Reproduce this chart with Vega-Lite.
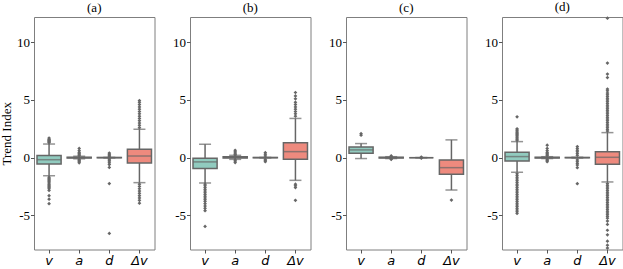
{
"$schema":"https://vega.github.io/schema/vega-lite/v6.json",
"padding":{"left":0,"right":0,"top":0,"bottom":0},
"spacing":17,
"config":{
 "view":{"stroke":"#7f7f7f","strokeWidth":1},
 "axis":{"grid":false,"domain":false,"tickColor":"#555","tickSize":3.5,"labelColor":"#000","titleColor":"#000"},
 "axisY":{"labelFont":"Liberation Serif","labelFontSize":13,"titleFont":"Liberation Serif","titleFontSize":13,"titleFontWeight":"normal","labelPadding":1,"titlePadding":3},
 "axisX":{"labelFont":"DejaVu Sans","labelFontStyle":"italic","labelFontSize":13,"labelAngle":0,"title":null,"labelPadding":1},
 "title":{"font":"Liberation Serif","fontSize":13,"fontWeight":"normal","anchor":"middle","offset":2,"color":"#000"}
},
"datasets":{
"boxes":[
{"p":"a","var":"v","q1":-0.55,"med":-0.18,"q3":0.18,"lo":-1.57,"hi":1.18},
{"p":"a","var":"a","q1":-0.03,"med":0.0,"q3":0.04,"lo":-0.1,"hi":0.12},
{"p":"a","var":"d","q1":-0.01,"med":0.0,"q3":0.01,"lo":-0.02,"hi":0.02},
{"p":"a","var":"Δv","q1":-0.46,"med":0.14,"q3":0.72,"lo":-2.17,"hi":2.46},
{"p":"b","var":"v","q1":-0.95,"med":-0.37,"q3":-0.05,"lo":-2.2,"hi":1.16},
{"p":"b","var":"a","q1":-0.03,"med":0.02,"q3":0.07,"lo":-0.15,"hi":0.2},
{"p":"b","var":"d","q1":-0.01,"med":0.0,"q3":0.01,"lo":-0.02,"hi":0.02},
{"p":"b","var":"Δv","q1":-0.14,"med":0.52,"q3":1.3,"lo":-1.97,"hi":3.4},
{"p":"c","var":"v","q1":0.38,"med":0.67,"q3":0.93,"lo":-0.08,"hi":1.22},
{"p":"c","var":"a","q1":-0.03,"med":0.0,"q3":0.03,"lo":-0.08,"hi":0.08},
{"p":"c","var":"d","q1":0.0,"med":0.0,"q3":0.0,"lo":0.0,"hi":0.0},
{"p":"c","var":"Δv","q1":-1.45,"med":-0.87,"q3":-0.2,"lo":-2.81,"hi":1.54},
{"p":"d","var":"v","q1":-0.29,"med":0.09,"q3":0.47,"lo":-1.27,"hi":1.39},
{"p":"d","var":"a","q1":-0.03,"med":0.0,"q3":0.03,"lo":-0.08,"hi":0.08},
{"p":"d","var":"d","q1":-0.01,"med":0.0,"q3":0.01,"lo":-0.03,"hi":0.03},
{"p":"d","var":"Δv","q1":-0.58,"med":0.03,"q3":0.52,"lo":-2.11,"hi":2.17}
],
"outliers":[
{"p":"a","var":"v","y":1.3},{"p":"a","var":"v","y":1.36},{"p":"a","var":"v","y":1.42},{"p":"a","var":"v","y":1.48},{"p":"a","var":"v","y":1.54},{"p":"a","var":"v","y":1.6},{"p":"a","var":"v","y":1.7},
{"p":"a","var":"v","y":-1.7},{"p":"a","var":"v","y":-1.8},{"p":"a","var":"v","y":-1.9},{"p":"a","var":"v","y":-2.0},{"p":"a","var":"v","y":-2.1},{"p":"a","var":"v","y":-2.2},{"p":"a","var":"v","y":-2.3},{"p":"a","var":"v","y":-2.4},{"p":"a","var":"v","y":-2.5},{"p":"a","var":"v","y":-2.6},{"p":"a","var":"v","y":-2.7},{"p":"a","var":"v","y":-2.85},{"p":"a","var":"v","y":-3.3},{"p":"a","var":"v","y":-3.6},{"p":"a","var":"v","y":-4.0},
{"p":"a","var":"a","y":0.8},{"p":"a","var":"a","y":0.6},{"p":"a","var":"a","y":0.45},{"p":"a","var":"a","y":0.35},{"p":"a","var":"a","y":0.25},{"p":"a","var":"a","y":0.18},{"p":"a","var":"a","y":-0.18},{"p":"a","var":"a","y":-0.25},{"p":"a","var":"a","y":-0.35},{"p":"a","var":"a","y":-0.45},
{"p":"a","var":"d","y":0.4},{"p":"a","var":"d","y":0.3},{"p":"a","var":"d","y":0.2},{"p":"a","var":"d","y":0.1},{"p":"a","var":"d","y":-0.1},{"p":"a","var":"d","y":-0.2},{"p":"a","var":"d","y":-0.3},{"p":"a","var":"d","y":-0.45},{"p":"a","var":"d","y":-0.6},{"p":"a","var":"d","y":-0.85},{"p":"a","var":"d","y":-2.25},{"p":"a","var":"d","y":-6.58},
{"p":"a","var":"Δv","y":2.6},{"p":"a","var":"Δv","y":2.8},{"p":"a","var":"Δv","y":3.0},{"p":"a","var":"Δv","y":3.2},{"p":"a","var":"Δv","y":3.4},{"p":"a","var":"Δv","y":3.6},{"p":"a","var":"Δv","y":3.8},{"p":"a","var":"Δv","y":4.0},{"p":"a","var":"Δv","y":4.2},{"p":"a","var":"Δv","y":4.4},{"p":"a","var":"Δv","y":4.6},{"p":"a","var":"Δv","y":4.8},{"p":"a","var":"Δv","y":4.95},
{"p":"a","var":"Δv","y":-2.3},{"p":"a","var":"Δv","y":-2.5},{"p":"a","var":"Δv","y":-2.7},{"p":"a","var":"Δv","y":-2.9},{"p":"a","var":"Δv","y":-3.1},{"p":"a","var":"Δv","y":-3.3},{"p":"a","var":"Δv","y":-3.5},{"p":"a","var":"Δv","y":-3.7},{"p":"a","var":"Δv","y":-3.95},
{"p":"b","var":"v","y":-2.3},{"p":"b","var":"v","y":-2.45},{"p":"b","var":"v","y":-2.6},{"p":"b","var":"v","y":-2.75},{"p":"b","var":"v","y":-2.9},{"p":"b","var":"v","y":-3.05},{"p":"b","var":"v","y":-3.2},{"p":"b","var":"v","y":-3.35},{"p":"b","var":"v","y":-3.5},{"p":"b","var":"v","y":-3.65},{"p":"b","var":"v","y":-3.8},{"p":"b","var":"v","y":-4.0},{"p":"b","var":"v","y":-4.2},{"p":"b","var":"v","y":-4.4},{"p":"b","var":"v","y":-4.6},{"p":"b","var":"v","y":-5.97},
{"p":"b","var":"a","y":0.64},{"p":"b","var":"a","y":0.5},{"p":"b","var":"a","y":0.4},{"p":"b","var":"a","y":0.3},{"p":"b","var":"a","y":0.22},{"p":"b","var":"a","y":-0.2},{"p":"b","var":"a","y":-0.3},{"p":"b","var":"a","y":-0.43},
{"p":"b","var":"d","y":0.43},{"p":"b","var":"d","y":0.3},{"p":"b","var":"d","y":0.15},{"p":"b","var":"d","y":-0.15},{"p":"b","var":"d","y":-0.25},{"p":"b","var":"d","y":-0.35},
{"p":"b","var":"Δv","y":3.6},{"p":"b","var":"Δv","y":3.8},{"p":"b","var":"Δv","y":4.0},{"p":"b","var":"Δv","y":4.2},{"p":"b","var":"Δv","y":4.4},{"p":"b","var":"Δv","y":4.6},{"p":"b","var":"Δv","y":4.8},{"p":"b","var":"Δv","y":5.1},{"p":"b","var":"Δv","y":5.35},{"p":"b","var":"Δv","y":5.65},
{"p":"b","var":"Δv","y":-2.3},{"p":"b","var":"Δv","y":-2.45},{"p":"b","var":"Δv","y":-2.6},{"p":"b","var":"Δv","y":-3.7},
{"p":"c","var":"v","y":1.95},{"p":"c","var":"v","y":2.08},
{"p":"c","var":"a","y":0.15},{"p":"c","var":"a","y":0.1},{"p":"c","var":"a","y":-0.1},{"p":"c","var":"a","y":-0.15},
{"p":"c","var":"d","y":0.05},{"p":"c","var":"d","y":-0.05},
{"p":"c","var":"Δv","y":-3.68},
{"p":"d","var":"v","y":1.5},{"p":"d","var":"v","y":1.6},{"p":"d","var":"v","y":1.7},{"p":"d","var":"v","y":1.8},{"p":"d","var":"v","y":1.9},{"p":"d","var":"v","y":2.0},{"p":"d","var":"v","y":2.1},{"p":"d","var":"v","y":2.2},{"p":"d","var":"v","y":2.3},{"p":"d","var":"v","y":2.4},{"p":"d","var":"v","y":2.5},{"p":"d","var":"v","y":3.54},
{"p":"d","var":"v","y":-1.4},{"p":"d","var":"v","y":-1.55},{"p":"d","var":"v","y":-1.7},{"p":"d","var":"v","y":-1.85},{"p":"d","var":"v","y":-2.0},{"p":"d","var":"v","y":-2.15},{"p":"d","var":"v","y":-2.3},{"p":"d","var":"v","y":-2.45},{"p":"d","var":"v","y":-2.6},{"p":"d","var":"v","y":-2.75},{"p":"d","var":"v","y":-2.9},{"p":"d","var":"v","y":-3.05},{"p":"d","var":"v","y":-3.2},{"p":"d","var":"v","y":-3.35},{"p":"d","var":"v","y":-3.5},{"p":"d","var":"v","y":-3.65},{"p":"d","var":"v","y":-3.8},{"p":"d","var":"v","y":-3.95},{"p":"d","var":"v","y":-4.1},{"p":"d","var":"v","y":-4.25},{"p":"d","var":"v","y":-4.4},{"p":"d","var":"v","y":-4.55},{"p":"d","var":"v","y":-4.7},{"p":"d","var":"v","y":-4.84},
{"p":"d","var":"a","y":1.08},{"p":"d","var":"a","y":0.8},{"p":"d","var":"a","y":0.6},{"p":"d","var":"a","y":0.45},{"p":"d","var":"a","y":0.35},{"p":"d","var":"a","y":0.25},{"p":"d","var":"a","y":0.18},{"p":"d","var":"a","y":-0.18},{"p":"d","var":"a","y":-0.25},{"p":"d","var":"a","y":-0.35},
{"p":"d","var":"d","y":0.96},{"p":"d","var":"d","y":0.8},{"p":"d","var":"d","y":0.65},{"p":"d","var":"d","y":0.5},{"p":"d","var":"d","y":0.35},{"p":"d","var":"d","y":0.2},{"p":"d","var":"d","y":-0.2},{"p":"d","var":"d","y":-0.35},{"p":"d","var":"d","y":-0.5},{"p":"d","var":"d","y":-0.65},{"p":"d","var":"d","y":-0.87},{"p":"d","var":"d","y":-2.26},
{"p":"d","var":"Δv","y":2.3},{"p":"d","var":"Δv","y":2.45},{"p":"d","var":"Δv","y":2.6},{"p":"d","var":"Δv","y":2.75},{"p":"d","var":"Δv","y":2.9},{"p":"d","var":"Δv","y":3.05},{"p":"d","var":"Δv","y":3.2},{"p":"d","var":"Δv","y":3.35},{"p":"d","var":"Δv","y":3.5},{"p":"d","var":"Δv","y":3.65},{"p":"d","var":"Δv","y":3.8},{"p":"d","var":"Δv","y":3.95},{"p":"d","var":"Δv","y":4.1},{"p":"d","var":"Δv","y":4.25},{"p":"d","var":"Δv","y":4.4},{"p":"d","var":"Δv","y":4.55},{"p":"d","var":"Δv","y":4.7},{"p":"d","var":"Δv","y":4.85},{"p":"d","var":"Δv","y":5.0},{"p":"d","var":"Δv","y":5.15},{"p":"d","var":"Δv","y":5.3},{"p":"d","var":"Δv","y":5.45},{"p":"d","var":"Δv","y":5.6},{"p":"d","var":"Δv","y":5.8},{"p":"d","var":"Δv","y":5.95},{"p":"d","var":"Δv","y":6.95},{"p":"d","var":"Δv","y":7.25},{"p":"d","var":"Δv","y":8.2},{"p":"d","var":"Δv","y":12.1},
{"p":"d","var":"Δv","y":-2.25},{"p":"d","var":"Δv","y":-2.4},{"p":"d","var":"Δv","y":-2.55},{"p":"d","var":"Δv","y":-2.7},{"p":"d","var":"Δv","y":-2.85},{"p":"d","var":"Δv","y":-3.0},{"p":"d","var":"Δv","y":-3.15},{"p":"d","var":"Δv","y":-3.3},{"p":"d","var":"Δv","y":-3.45},{"p":"d","var":"Δv","y":-3.6},{"p":"d","var":"Δv","y":-3.75},{"p":"d","var":"Δv","y":-3.9},{"p":"d","var":"Δv","y":-4.05},{"p":"d","var":"Δv","y":-4.2},{"p":"d","var":"Δv","y":-4.35},{"p":"d","var":"Δv","y":-4.5},{"p":"d","var":"Δv","y":-4.65},{"p":"d","var":"Δv","y":-4.8},{"p":"d","var":"Δv","y":-4.95},{"p":"d","var":"Δv","y":-5.1},{"p":"d","var":"Δv","y":-5.25},{"p":"d","var":"Δv","y":-5.5},{"p":"d","var":"Δv","y":-5.8},{"p":"d","var":"Δv","y":-6.3},{"p":"d","var":"Δv","y":-6.7},{"p":"d","var":"Δv","y":-7.25},{"p":"d","var":"Δv","y":-7.6},{"p":"d","var":"Δv","y":-7.85}
]
},
"hconcat":[
{"title":"(a)","width":120.5,"height":232.5,
 "encoding":{"x":{"field":"var","type":"nominal","sort":["v","a","d","Δv"],"scale":{"paddingInner":0,"paddingOuter":0}}},
 "layer":[
  {"data":{"name":"boxes"},"transform":[{"filter":"datum.p=='a'"}],"mark":{"type":"rule","color":"#666","strokeWidth":1.5},"encoding":{"y":{"field":"lo","type":"quantitative","scale":{"domain":[-7.97,12.2],"nice":false,"zero":false},"axis":{"values":[-5,0,5,10],"title":"Trend Index","labelExpr":"datum.value"}},"y2":{"field":"hi"}}},
  {"data":{"name":"boxes"},"transform":[{"filter":"datum.p=='a'"}],"mark":{"type":"tick","color":"#666","size":12,"thickness":1.5},"encoding":{"y":{"field":"lo","type":"quantitative"}}},
  {"data":{"name":"boxes"},"transform":[{"filter":"datum.p=='a'"}],"mark":{"type":"tick","color":"#666","size":12,"thickness":1.5},"encoding":{"y":{"field":"hi","type":"quantitative"}}},
  {"data":{"name":"boxes"},"transform":[{"filter":"datum.p=='a'"}],"mark":{"type":"bar","width":{"band":0.8},"stroke":"#666","strokeWidth":1.5,"opacity":1},"encoding":{"y":{"field":"q1","type":"quantitative"},"y2":{"field":"q3"},"color":{"field":"var","type":"nominal","scale":{"domain":["v","a","d","Δv"],"range":["#91cbbf","#f2f2c0","#b9b7cf","#ee8a7e"]},"legend":null}}},
  {"data":{"name":"boxes"},"transform":[{"filter":"datum.p=='a'"}],"mark":{"type":"tick","color":"#666","size":24,"thickness":1.5},"encoding":{"y":{"field":"med","type":"quantitative"}}},
  {"data":{"name":"outliers"},"transform":[{"filter":"datum.p=='a'"}],"mark":{"type":"point","shape":"diamond","filled":true,"color":"#666","size":14,"opacity":1},"encoding":{"y":{"field":"y","type":"quantitative"}}}
 ]},
{"title":"(b)","width":120.5,"height":232.5,
 "encoding":{"x":{"field":"var","type":"nominal","sort":["v","a","d","Δv"],"scale":{"paddingInner":0,"paddingOuter":0}}},
 "layer":[
  {"data":{"name":"boxes"},"transform":[{"filter":"datum.p=='b'"}],"mark":{"type":"rule","color":"#666","strokeWidth":1.5},"encoding":{"y":{"field":"lo","type":"quantitative","scale":{"domain":[-7.97,12.2],"nice":false,"zero":false},"axis":{"values":[-5,0,5,10],"title":null,"labelExpr":"datum.value"}},"y2":{"field":"hi"}}},
  {"data":{"name":"boxes"},"transform":[{"filter":"datum.p=='b'"}],"mark":{"type":"tick","color":"#666","size":12,"thickness":1.5},"encoding":{"y":{"field":"lo","type":"quantitative"}}},
  {"data":{"name":"boxes"},"transform":[{"filter":"datum.p=='b'"}],"mark":{"type":"tick","color":"#666","size":12,"thickness":1.5},"encoding":{"y":{"field":"hi","type":"quantitative"}}},
  {"data":{"name":"boxes"},"transform":[{"filter":"datum.p=='b'"}],"mark":{"type":"bar","width":{"band":0.8},"stroke":"#666","strokeWidth":1.5,"opacity":1},"encoding":{"y":{"field":"q1","type":"quantitative"},"y2":{"field":"q3"},"color":{"field":"var","type":"nominal","scale":{"domain":["v","a","d","Δv"],"range":["#91cbbf","#f2f2c0","#b9b7cf","#ee8a7e"]},"legend":null}}},
  {"data":{"name":"boxes"},"transform":[{"filter":"datum.p=='b'"}],"mark":{"type":"tick","color":"#666","size":24,"thickness":1.5},"encoding":{"y":{"field":"med","type":"quantitative"}}},
  {"data":{"name":"outliers"},"transform":[{"filter":"datum.p=='b'"}],"mark":{"type":"point","shape":"diamond","filled":true,"color":"#666","size":14,"opacity":1},"encoding":{"y":{"field":"y","type":"quantitative"}}}
 ]},
{"title":"(c)","width":120.5,"height":232.5,
 "encoding":{"x":{"field":"var","type":"nominal","sort":["v","a","d","Δv"],"scale":{"paddingInner":0,"paddingOuter":0}}},
 "layer":[
  {"data":{"name":"boxes"},"transform":[{"filter":"datum.p=='c'"}],"mark":{"type":"rule","color":"#666","strokeWidth":1.5},"encoding":{"y":{"field":"lo","type":"quantitative","scale":{"domain":[-7.97,12.2],"nice":false,"zero":false},"axis":{"values":[-5,0,5,10],"title":null,"labelExpr":"datum.value"}},"y2":{"field":"hi"}}},
  {"data":{"name":"boxes"},"transform":[{"filter":"datum.p=='c'"}],"mark":{"type":"tick","color":"#666","size":12,"thickness":1.5},"encoding":{"y":{"field":"lo","type":"quantitative"}}},
  {"data":{"name":"boxes"},"transform":[{"filter":"datum.p=='c'"}],"mark":{"type":"tick","color":"#666","size":12,"thickness":1.5},"encoding":{"y":{"field":"hi","type":"quantitative"}}},
  {"data":{"name":"boxes"},"transform":[{"filter":"datum.p=='c'"}],"mark":{"type":"bar","width":{"band":0.8},"stroke":"#666","strokeWidth":1.5,"opacity":1},"encoding":{"y":{"field":"q1","type":"quantitative"},"y2":{"field":"q3"},"color":{"field":"var","type":"nominal","scale":{"domain":["v","a","d","Δv"],"range":["#91cbbf","#f2f2c0","#b9b7cf","#ee8a7e"]},"legend":null}}},
  {"data":{"name":"boxes"},"transform":[{"filter":"datum.p=='c'"}],"mark":{"type":"tick","color":"#666","size":24,"thickness":1.5},"encoding":{"y":{"field":"med","type":"quantitative"}}},
  {"data":{"name":"outliers"},"transform":[{"filter":"datum.p=='c'"}],"mark":{"type":"point","shape":"diamond","filled":true,"color":"#666","size":14,"opacity":1},"encoding":{"y":{"field":"y","type":"quantitative"}}}
 ]},
{"title":"(d)","width":120.5,"height":232.5,
 "encoding":{"x":{"field":"var","type":"nominal","sort":["v","a","d","Δv"],"scale":{"paddingInner":0,"paddingOuter":0}}},
 "layer":[
  {"data":{"name":"boxes"},"transform":[{"filter":"datum.p=='d'"}],"mark":{"type":"rule","color":"#666","strokeWidth":1.5},"encoding":{"y":{"field":"lo","type":"quantitative","scale":{"domain":[-7.97,12.2],"nice":false,"zero":false},"axis":{"values":[-5,0,5,10],"title":null,"labelExpr":"datum.value"}},"y2":{"field":"hi"}}},
  {"data":{"name":"boxes"},"transform":[{"filter":"datum.p=='d'"}],"mark":{"type":"tick","color":"#666","size":12,"thickness":1.5},"encoding":{"y":{"field":"lo","type":"quantitative"}}},
  {"data":{"name":"boxes"},"transform":[{"filter":"datum.p=='d'"}],"mark":{"type":"tick","color":"#666","size":12,"thickness":1.5},"encoding":{"y":{"field":"hi","type":"quantitative"}}},
  {"data":{"name":"boxes"},"transform":[{"filter":"datum.p=='d'"}],"mark":{"type":"bar","width":{"band":0.8},"stroke":"#666","strokeWidth":1.5,"opacity":1},"encoding":{"y":{"field":"q1","type":"quantitative"},"y2":{"field":"q3"},"color":{"field":"var","type":"nominal","scale":{"domain":["v","a","d","Δv"],"range":["#91cbbf","#f2f2c0","#b9b7cf","#ee8a7e"]},"legend":null}}},
  {"data":{"name":"boxes"},"transform":[{"filter":"datum.p=='d'"}],"mark":{"type":"tick","color":"#666","size":24,"thickness":1.5},"encoding":{"y":{"field":"med","type":"quantitative"}}},
  {"data":{"name":"outliers"},"transform":[{"filter":"datum.p=='d'"}],"mark":{"type":"point","shape":"diamond","filled":true,"color":"#666","size":14,"opacity":1},"encoding":{"y":{"field":"y","type":"quantitative"}}}
 ]}
]
}
